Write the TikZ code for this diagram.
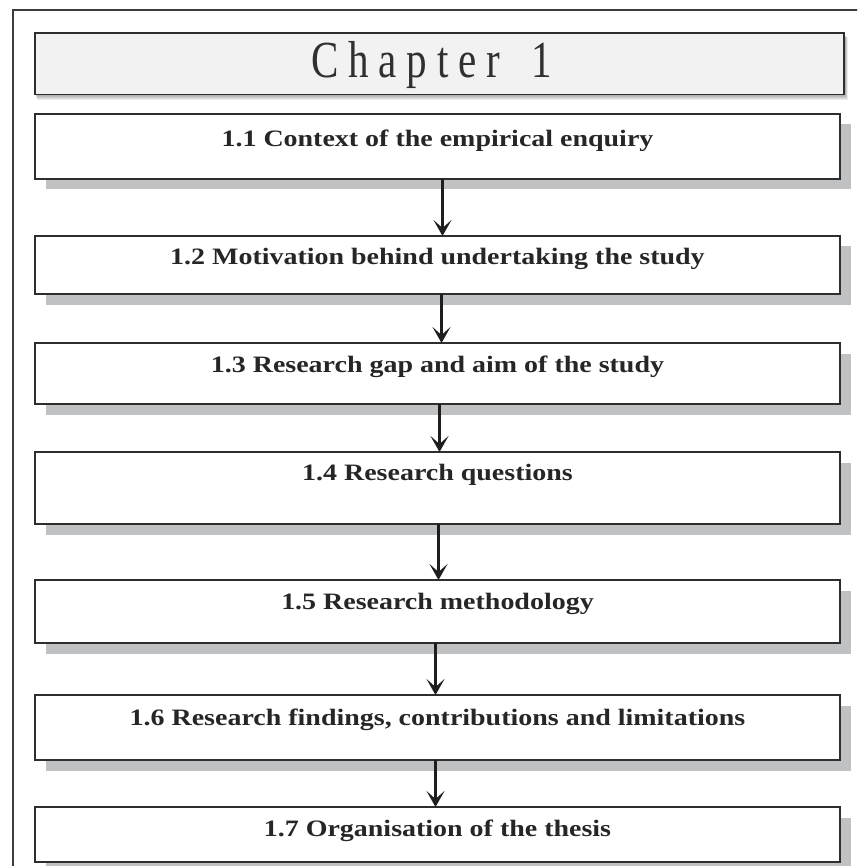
\documentclass[tikz,border=0pt]{standalone}
\usepackage{fontspec}
\usepackage{graphicx}
\setmainfont{Liberation Serif}
\newfontfamily\titlefont{Liberation Serif}[LetterSpace=24]
\newfontfamily\stepfont{Liberation Serif}[FakeStretch=1.19]
\usetikzlibrary{arrows.meta,shadows}

\definecolor{frameline}{HTML}{3C3C3C}
\definecolor{boxline}{HTML}{2E2E2E}
\definecolor{shadowgray}{HTML}{C0C1C3}
\definecolor{titlefill}{HTML}{F2F2F2}
\definecolor{titletext}{HTML}{303030}
\definecolor{arrowcol}{HTML}{1E1E1E}
\definecolor{steptext}{HTML}{262626}

\begin{document}
\begin{tikzpicture}[x=1pt,y=-1pt,
  stepbox/.style={draw=boxline, line width=1.8pt, fill=white,
    minimum width=805pt, inner xsep=0pt, inner ysep=0pt, outer sep=0pt,
    anchor=north west, text=steptext,
    font=\stepfont\fontsize{23.5}{23.5}\selectfont\bfseries,
    drop shadow={shadow xshift=11pt, shadow yshift=-10.5pt,
      fill=shadowgray, opacity=1}},
  titlebox/.style={draw=boxline, line width=1.8pt, fill=titlefill,
    minimum width=809pt, inner xsep=0pt, inner ysep=0pt, outer sep=0pt,
    anchor=north west, text=titletext},
  flowarrow/.style={draw=arrowcol, line width=2.8pt,
    -{Stealth[length=16pt, width=18pt, inset=8pt]}}]

% page area
\useasboundingbox (0,0) rectangle (857,866);
\clip (0,0) rectangle (857,866);

% outer frame
\draw[frameline, line width=2pt] (13,900) -- (13,10) -- (900,10);

% soft shadow under the chapter heading
\foreach \s in {0,1,2,3,4}
  \fill[black, opacity=0.07] (35+\s*0.5,36+\s*0.3) rectangle (845.5+\s*0.6,96.5+\s*0.8);

% chapter heading (wide letter spacing, extra gap before the number)
\node[titlebox, text height=45pt, text depth=16.5pt] (chap) at (35,33)
  {\scalebox{0.79}[1]{\titlefont\fontsize{52}{52}\selectfont Chapter\hspace{14pt} 1\hspace*{20pt}}};

% section boxes
\node[stepbox, text height=33pt, text depth=32pt] (b1) at (35,114) {1.1 Context of the empirical enquiry};
\node[stepbox, text height=29pt, text depth=29pt] (b2) at (35,236) {1.2 Motivation behind undertaking the study};
\node[stepbox, text height=29pt, text depth=32pt] (b3) at (35,343) {1.3 Research gap and aim of the study};
\node[stepbox, text height=28pt, text depth=44pt] (b4) at (35,452) {1.4 Research questions};
\node[stepbox, text height=29pt, text depth=34pt] (b5) at (35,580) {1.5 Research methodology};
\node[stepbox, text height=30pt, text depth=35pt] (b6) at (35,695) {1.6 Research findings, contributions and limitations};
\node[stepbox, text height=29pt, text depth=26pt] (b7) at (35,807) {1.7 Organisation of the thesis};

% connectors
\draw[flowarrow] ([xshift=5pt]b1.south) -- ([xshift=5pt]b2.north);
\draw[flowarrow] ([xshift=4pt]b2.south) -- ([xshift=4pt]b3.north);
\draw[flowarrow] ([xshift=2pt]b3.south) -- ([xshift=2pt]b4.north);
\draw[flowarrow] ([xshift=1pt]b4.south) -- ([xshift=1pt]b5.north);
\draw[flowarrow] ([xshift=-2pt]b5.south) -- ([xshift=-2pt]b6.north);
\draw[flowarrow] ([xshift=-2pt]b6.south) -- ([xshift=-2pt]b7.north);
\end{tikzpicture}
\end{document}
